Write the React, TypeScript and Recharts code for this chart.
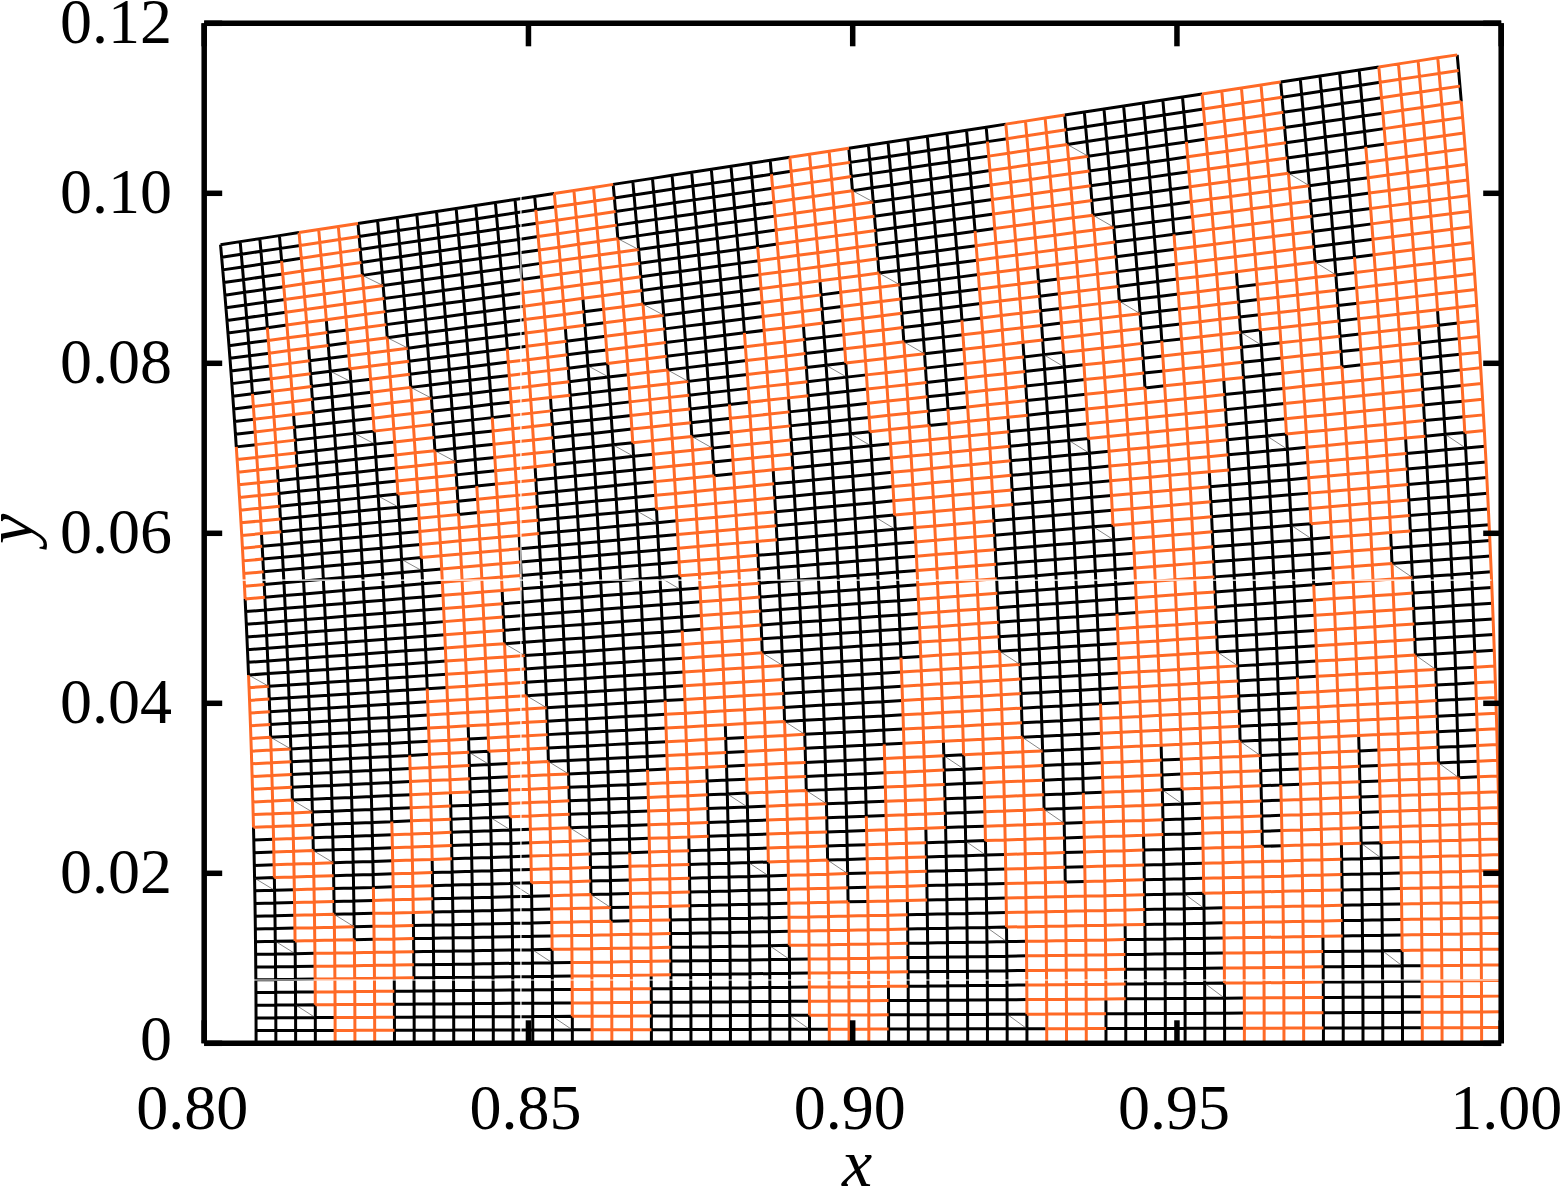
import React from "react";
import { LineChart, Line, XAxis, YAxis, ReferenceLine } from "recharts";

// mesh stations (r along the arcs, theta along the rays)
const radii = [
  0.808, 0.81105, 0.8141, 0.81714, 0.82019, 0.82324, 0.82629, 0.82934, 0.83238, 0.83543, 0.83848, 0.84153, 0.84458,
  0.84762, 0.85067, 0.85372, 0.85677, 0.85982, 0.86286, 0.86591, 0.86896, 0.87201, 0.87506, 0.8781, 0.88115, 0.8842,
  0.88725, 0.8903, 0.89334, 0.89639, 0.89944, 0.90249, 0.90554, 0.90858, 0.91163, 0.91468, 0.91773, 0.92078, 0.92382,
  0.92687, 0.92992, 0.93297, 0.93602, 0.93906, 0.94211, 0.94516, 0.94821, 0.95126, 0.9543, 0.95735, 0.9604, 0.96345,
  0.9665, 0.96954, 0.97259, 0.97564, 0.97869, 0.98174, 0.98478, 0.98783, 0.99088, 0.99393, 0.99698, 1.0,
];
const angles = [
  0, 0.00185, 0.0037, 0.00555, 0.0074, 0.00925, 0.0111, 0.01295, 0.0148, 0.01665, 0.0185, 0.02035, 0.0222, 0.02405,
  0.0259, 0.02775, 0.0296, 0.03145, 0.0333, 0.03515, 0.037, 0.03885, 0.0407, 0.04255, 0.0444, 0.04625, 0.0481, 0.04995,
  0.0518, 0.05365, 0.0555, 0.05735, 0.0592, 0.06105, 0.0629, 0.06475, 0.0666, 0.06845, 0.0703, 0.07215, 0.074, 0.07585,
  0.0777, 0.07955, 0.0814, 0.08325, 0.0851, 0.08695, 0.0888, 0.09065, 0.0925, 0.09435, 0.0962, 0.09805, 0.0999, 0.10175,
  0.1036, 0.10545, 0.1073, 0.10915, 0.111, 0.11285, 0.1147, 0.11655,
];

// orange node ranges [first j, last j] for every radius index, black elsewhere
const orangeRanges: number[][][] = [
  [[17, 28], [35, 46]], [[13, 23], [40, 50]], [[8, 18], [45, 55]], [[3, 14], [49, 60]],
  [[0, 9], [54, 63]], [[0, 7], [56, 63]], [[0, 11], [52, 63]], [[5, 16], [47, 58]],
  [[10, 21], [42, 53]], [[14, 26], [37, 49]], [[19, 44]], [[24, 39]],
  [[22, 41]], [[17, 29], [34, 46]], [[12, 25], [38, 51]], [[7, 20], [43, 56]],
  [[2, 15], [48, 61]], [[0, 10], [53, 63]], [[0, 8], [55, 63]], [[0, 13], [50, 63]],
  [[5, 19], [44, 58]], [[10, 24], [39, 53]], [[15, 29], [34, 48]], [[20, 43]],
  [[23, 40]], [[18, 45]], [[13, 27], [36, 50]], [[7, 22], [41, 56]],
  [[2, 17], [46, 61]], [[0, 12], [51, 63]], [[0, 9], [54, 63]], [[0, 15], [48, 63]],
  [[4, 20], [43, 59]], [[10, 26], [37, 53]], [[15, 48]], [[21, 42]],
  [[20, 43]], [[14, 49]], [[8, 26], [37, 55]], [[2, 20], [43, 61]],
  [[0, 15], [48, 63]], [[0, 10], [53, 63]], [[0, 16], [47, 63]], [[3, 22], [41, 60]],
  [[8, 28], [35, 55]], [[14, 49]], [[20, 43]], [[17, 46]],
  [[10, 53]], [[4, 25], [38, 59]], [[0, 19], [44, 63]], [[0, 12], [51, 63]],
  [[0, 16], [47, 63]], [[0, 23], [40, 63]], [[7, 29], [34, 56]], [[13, 50]],
  [[20, 43]], [[13, 50]], [[6, 30], [33, 57]], [[0, 24], [39, 63]],
  [[0, 17], [46, 63]], [[0, 16], [47, 63]], [[0, 24], [39, 63]], [[4, 59]],
];

const xTicks = [0.8, 0.85, 0.9, 0.95, 1.0];
const yTicks = [0, 0.02, 0.04, 0.06, 0.08, 0.1, 0.12];
const xTickLabels = ["0.80", "0.85", "0.90", "0.95", "1.00"];
const yTickLabels = ["0", "0.02", "0.04", "0.06", "0.08", "0.10", "0.12"];

const ORANGE = "#ff6a26";
const FONT = '"Liberation Serif", "Times New Roman", serif';

type Pt = { x: number; y: number | null };

const node = (i: number, j: number): Pt => ({
  x: radii[i] * Math.cos(angles[j]),
  y: radii[i] * Math.sin(angles[j]),
});

const isOrange = (i: number, j: number) => orangeRanges[i].some(([a, b]) => j >= a && j <= b);

// every mesh edge takes the colour of its lower left node
const buildEdges = (wantOrange: boolean) => {
  const pts: Pt[] = [];
  const addRuns = (count: number, at: (k: number) => [number, number]) => {
    let open = false;
    for (let k = 0; k < count - 1; k++) {
      const [i, j] = at(k);
      if (isOrange(i, j) === wantOrange) {
        if (!open) pts.push(node(i, j));
        const [i2, j2] = at(k + 1);
        pts.push(node(i2, j2));
        open = true;
      } else if (open) {
        pts.push({ x: pts[pts.length - 1].x, y: null });
        open = false;
      }
    }
    if (open) pts.push({ x: pts[pts.length - 1].x, y: null });
  };
  angles.forEach((_, j) => addRuns(radii.length, (k) => [k, j]));
  radii.forEach((_, i) => addRuns(angles.length, (k) => [i, k]));
  return pts;
};

// thin diagonals sit in black cells with one orange corner at upper right or lower left
const buildDiagonals = () => {
  const pts: Pt[] = [];
  for (let i = 0; i < radii.length - 1; i++) {
    for (let j = 0; j < angles.length - 1; j++) {
      const ll = isOrange(i, j);
      const ul = isOrange(i, j + 1);
      const lr = isOrange(i + 1, j);
      const ur = isOrange(i + 1, j + 1);
      if (!ul && !lr && ll !== ur) {
        pts.push(node(i, j + 1), node(i + 1, j), { x: radii[i + 1], y: null });
      }
    }
  }
  return pts;
};

const blackEdges = buildEdges(false);
const orangeEdges = buildEdges(true);
const diagonals = buildDiagonals();

const XTick = ({ x, payload, index }: any) => {
  const idx = index ?? xTicks.indexOf(payload.value);
  // the end labels sit a little further out in the reference
  const dx = idx === 0 ? -12 : idx === xTicks.length - 1 ? 5 : -3;
  return (
    <text x={x + dx} y={1107} textAnchor="middle" dominantBaseline="central" fontFamily={FONT} fontSize={64} fill="#000">
      {xTickLabels[idx]}
    </text>
  );
};

const YTick = ({ y, payload, index }: any) => {
  const idx = index ?? yTicks.indexOf(payload.value);
  return (
    <text x={172} y={idx === 0 ? y - 5 : y - 2} textAnchor="end" dominantBaseline="central" fontFamily={FONT} fontSize={64} fill="#000">
      {yTickLabels[idx]}
    </text>
  );
};

const NoLabel = () => <g />;

const XLetter = () => (
  <text x={857} y={1186} textAnchor="middle" fontFamily={FONT} fontStyle="italic" fontSize={68} fill="#000">
    x
  </text>
);

const YLetter = () => (
  <text transform="translate(33,529) rotate(-90)" textAnchor="middle" fontFamily={FONT} fontStyle="italic" fontSize={68} fill="#000">
    y
  </text>
);

const frameLine = { stroke: "#000", strokeWidth: 5.5 };

export default function App() {
  return (
    <div style={{ position: "absolute", left: 0, top: 0, width: 1562, height: 1189, overflow: "hidden", background: "#fff" }}>
      <LineChart
        width={1562}
        height={1189}
        margin={{ top: 22.3, left: 203.2, right: 59.8, bottom: 144.7 }}
      >
        <Line data={blackEdges} dataKey="y" stroke="#000" strokeWidth={3} dot={false} activeDot={false} connectNulls={false} isAnimationActive={false} />
        <Line data={orangeEdges} dataKey="y" stroke={ORANGE} strokeWidth={3} dot={false} activeDot={false} connectNulls={false} isAnimationActive={false} />
        <Line data={diagonals} dataKey="y" stroke="#333" strokeWidth={0.6} dot={false} activeDot={false} connectNulls={false} isAnimationActive={false} />

        {/* white seams that run across the mesh */}
        <ReferenceLine segment={[{ x: 0.8, y: 0.0545 }, { x: 0.9985, y: 0.0545 }]} stroke="#fff" strokeWidth={1.2} />
        <ReferenceLine segment={[{ x: 0.8, y: 0.00745 }, { x: 1, y: 0.00745 }]} stroke="#fff" strokeWidth={1.2} />
        <ReferenceLine segment={[{ x: 0.84884, y: 0.001 }, { x: 0.84884, y: 0.1 }]} stroke="#fff" strokeWidth={1.2} />

        <XAxis
          xAxisId={0}
          dataKey="x"
          type="number"
          domain={[0.8, 1.0]}
          ticks={xTicks}
          height={1}
          interval={0}
          allowDataOverflow
          tickSize={-23}
          axisLine={frameLine}
          tickLine={frameLine}
          tick={XTick}
          label={XLetter}
        />
        <XAxis
          xAxisId="top"
          orientation="top"
          dataKey="x"
          type="number"
          domain={[0.8, 1.0]}
          ticks={xTicks}
          height={1}
          interval={0}
          allowDataOverflow
          tickSize={-23}
          axisLine={frameLine}
          tickLine={frameLine}
          tick={NoLabel}
        />
        <YAxis
          yAxisId={0}
          type="number"
          domain={[0, 0.12]}
          ticks={yTicks}
          width={1}
          interval={0}
          allowDataOverflow
          tickSize={-18}
          axisLine={frameLine}
          tickLine={frameLine}
          tick={YTick}
          label={YLetter}
        />
        <YAxis
          yAxisId="right"
          orientation="right"
          type="number"
          domain={[0, 0.12]}
          ticks={yTicks}
          width={1}
          interval={0}
          allowDataOverflow
          tickSize={-18}
          axisLine={frameLine}
          tickLine={frameLine}
          tick={NoLabel}
        />
      </LineChart>
    </div>
  );
}
